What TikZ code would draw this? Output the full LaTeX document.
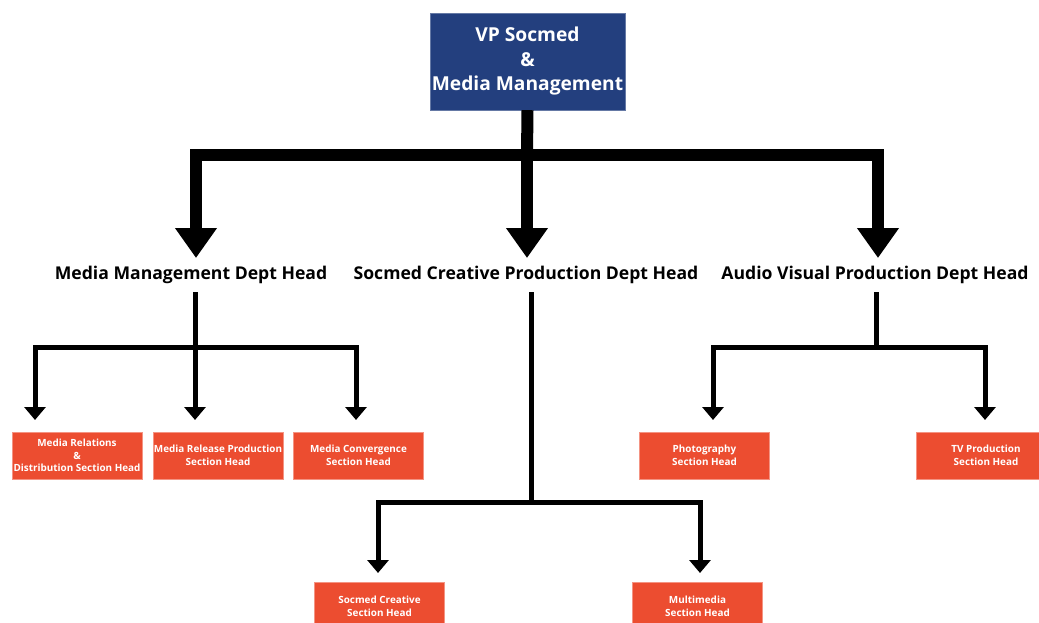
\documentclass[tikz,border=0pt]{standalone}
\usepackage{fontspec}
\setmainfont{Open Sans}
\usetikzlibrary{arrows.meta}
\definecolor{vpblue}{HTML}{233F7E}
\definecolor{secred}{HTML}{EC4D30}

\tikzset{
	vpbox/.style={fill=vpblue, draw=vpblue!70, text=white, align=center, inner sep=0pt,
		minimum width=195pt, minimum height=97pt, font=\fontsize{19.2}{24.5}\selectfont\bfseries},
	headlabel/.style={inner sep=0pt, font=\fontsize{17.6}{20}\selectfont\bfseries},
	secbox/.style={fill=secred, draw=secred!60, text=white, align=center, inner sep=0pt,
		minimum width=130pt, minimum height=47pt, font=\fontsize{9.9}{12.6}\selectfont\bfseries},
	bigline/.style={line width=12pt},
	bigarrow/.style={line width=12pt, -{Triangle[width=40pt,length=30pt]}},
	smallline/.style={line width=5pt},
	smallarrow/.style={line width=5pt, -{Triangle[width=21pt,length=13pt]}}
}

\begin{document}
\begin{tikzpicture}[x=1pt,y=-1pt]
	\useasboundingbox (0,0) rectangle (1039,623);
	
	% top
	\node[vpbox] (vp) at (527.5,61.5) {VP Socmed\\\&\\Media Management};
	
	% dept heads
	\node[headlabel] (mmhead) at (191,275) {Media Management Dept Head};
	\node[headlabel] (schead) at (526,275) {Socmed Creative Production Dept Head};
	\node[headlabel] (avhead) at (875,275) {Audio Visual Production Dept Head};
	
	% section heads
	\node[secbox] (mrel) at (77,455.5) {Media Relations\\\&\\Distribution Section Head};
	\node[secbox] (mrp) at (218,455.5) {Media Release Production\\Section Head};
	\node[secbox] (mconv) at (358.5,455.5) {Media Convergence\\Section Head};
	\node[secbox] (photo) at (704.5,455.5) {Photography\\Section Head};
	\node[secbox, minimum width=140pt] (tvprod) at (986,455.5) {TV Production\\Section Head};
	\node[secbox] (sccre) at (379.5,606) {Socmed Creative\\Section Head};
	\node[secbox] (mmedia) at (697.5,606) {Multimedia\\Section Head};
	
	% junctions and arrow ends
	\coordinate (vpbus) at (527,155);
	\coordinate (mmtip) at (196,258);
	\coordinate (sctip) at (527,258);
	\coordinate (avtip) at (878,258);
	
	\coordinate (mmtop) at (195,292);
	\coordinate (mmbus) at (195,347);
	\coordinate (sctop) at (531,292);
	\coordinate (scbus) at (531,502);
	\coordinate (avtop) at (876,292);
	\coordinate (avbus) at (876,347);
	
	\coordinate (mreltip) at (35,420);
	\coordinate (mrptip) at (195,420);
	\coordinate (mconvtip) at (356,420);
	\coordinate (phototip) at (713,420);
	\coordinate (tvtip) at (985,420);
	\coordinate (sccretip) at (378,573);
	\coordinate (mmediatip) at (700,573);
	
	% first level
	\draw[bigline] (vp.south) -- (vpbus);
	\draw[bigarrow] (vpbus) -| (mmtip);
	\draw[bigarrow] (vpbus) -- (sctip);
	\draw[bigarrow] (vpbus) -| (avtip);
	
	% second level
	\draw[smallline] (mmtop) -- (mmbus);
	\draw[smallarrow] (mmbus) -| (mreltip);
	\draw[smallarrow] (mmbus) -- (mrptip);
	\draw[smallarrow] (mmbus) -| (mconvtip);
	
	\draw[smallline] (sctop) -- (scbus);
	\draw[smallarrow] (scbus) -| (sccretip);
	\draw[smallarrow] (scbus) -| (mmediatip);
	
	\draw[smallline] (avtop) -- (avbus);
	\draw[smallarrow] (avbus) -| (phototip);
	\draw[smallarrow] (avbus) -| (tvtip);
\end{tikzpicture}
\end{document}
